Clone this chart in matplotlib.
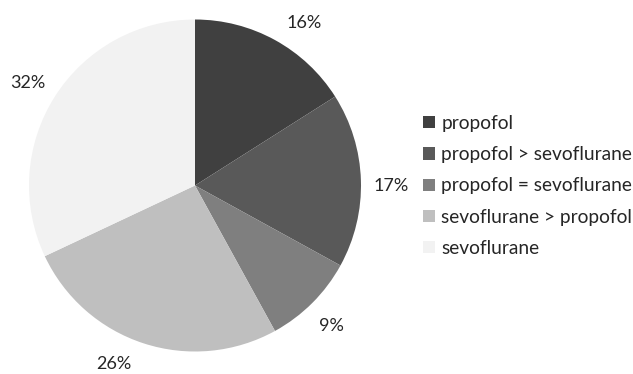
import matplotlib
matplotlib.use("Agg")
import numpy as np
import matplotlib.pyplot as plt
from matplotlib.patches import Patch

categories = ["propofol", "propofol > sevoflurane", "propofol = sevoflurane",
              "sevoflurane > propofol", "sevoflurane"]
shares = [16, 17, 9, 26, 32]
colors = ["#404040", "#595959", "#7f7f7f", "#bfbfbf", "#f2f2f2"]

# small angular nudges (degrees) for the outside percentage labels
label_nudge = [-5.2, -1.9, -0.9, -6.4, 0.9]
label_dist = 1.18

plt.rcParams["font.family"] = ["Lato", "DejaVu Sans"]

W, H = 633, 374
fig = plt.figure(figsize=(W / 100, H / 100), dpi=100)

# pie centre and radius in pixels
cx, cy, R = 195, 185.5, 166
L = 1.3
half = R * L
ax = fig.add_axes([(cx - half) / W, (H - cy - half) / H, 2 * half / W, 2 * half / H])

wedges, texts, autotexts = ax.pie(
    shares, colors=colors, startangle=90, counterclock=False, radius=1,
    autopct=lambda p: f"{p:.0f}%", pctdistance=label_dist,
    wedgeprops=dict(linewidth=0),
    textprops=dict(fontsize=13, color="#262626"),
)
for w, t, d in zip(wedges, autotexts, label_nudge):
    mid = np.deg2rad((w.theta1 + w.theta2) / 2 + d)
    t.set_position((label_dist * np.cos(mid), label_dist * np.sin(mid)))

ax.set_xlim(-L, L)
ax.set_ylim(-L, L)
ax.set_aspect("equal")
ax.axis("off")

handles = [Patch(facecolor=c, edgecolor="none") for c in colors]
fig.legend(handles, categories, loc="center left",
           bbox_to_anchor=(423 / W, 1 - 186 / H), frameon=False,
           fontsize=13.8, handlelength=0.6, handleheight=0.6,
           handletextpad=0.35, labelspacing=0.74, labelcolor="#262626",
           borderpad=0, borderaxespad=0)

fig.savefig("out.png", dpi=100)
